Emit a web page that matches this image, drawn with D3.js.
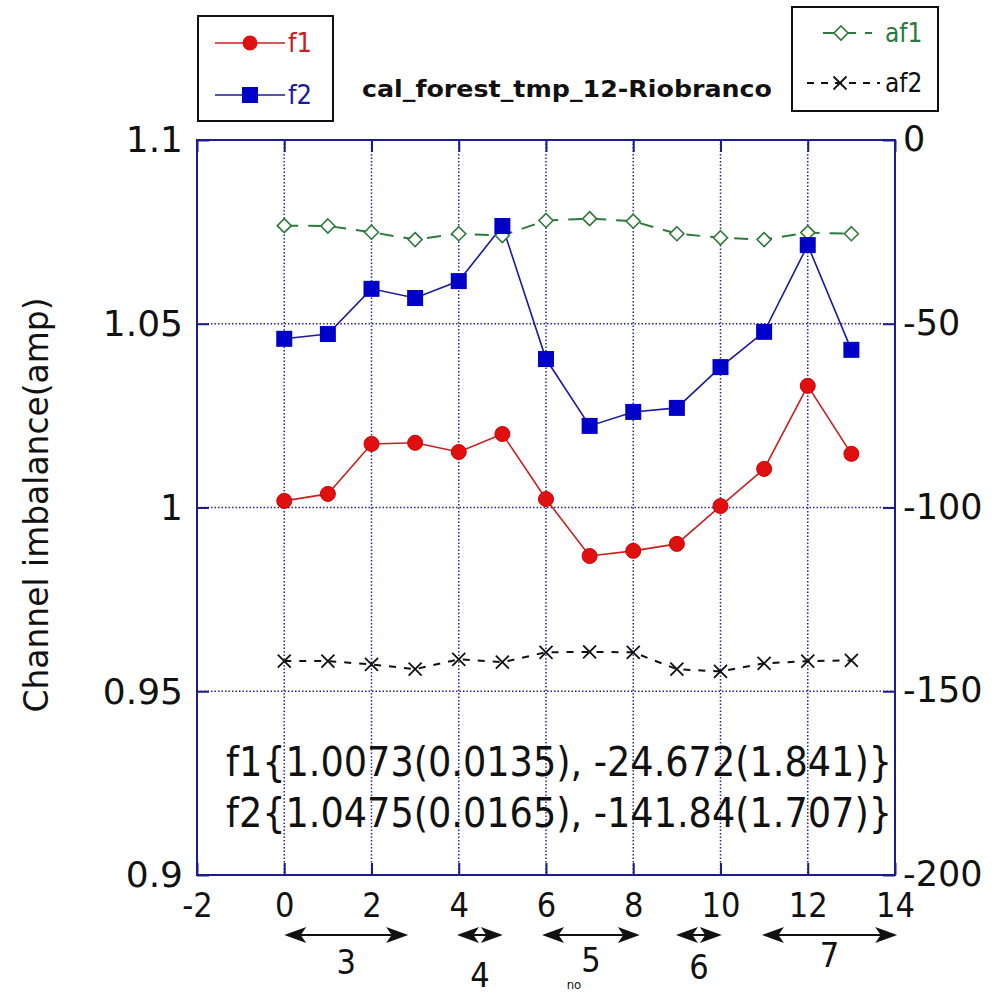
<!DOCTYPE html>
<html>
<head>
<meta charset="utf-8">
<script src="https://cdn.jsdelivr.net/npm/d3@7"></script>
<style>
  html, body { margin: 0; padding: 0; background: #fff; }
  svg { display: block; }
  .cond { font-family: "DejaVu Sans Condensed", "Liberation Sans Narrow", "Roboto Condensed", "DejaVu Sans", sans-serif; }
  .wide { font-family: "DejaVu Sans", Verdana, sans-serif; }
</style>
</head>
<body>
<svg id="chart" width="1003" height="998"></svg>
<script>
// Sample index along the run
const sampleNo = [0, 1, 2, 3, 4, 5, 6, 7, 8, 9, 10, 11, 12, 13];

// Amplitude imbalance (left axis)
const f1 = [1.0018, 1.0037, 1.0173, 1.0176, 1.0151, 1.0200, 1.0023, 0.9868, 0.9882, 0.9901, 1.0004, 1.0105, 1.0331, 1.0146];
const f2 = [1.0459, 1.0472, 1.0595, 1.0570, 1.0616, 1.0766, 1.0404, 1.0222, 1.0260, 1.0271, 1.0382, 1.0478, 1.0714, 1.0429];

// Phase imbalance (right axis)
const af1 = [-23.3, -23.4, -25.1, -27.1, -25.5, -26.0, -21.9, -21.4, -22.1, -25.5, -26.6, -27.1, -25.2, -25.5];
const af2 = [-141.8, -141.8, -142.7, -144.0, -141.3, -142.1, -139.4, -139.3, -139.4, -144.0, -144.6, -142.4, -141.8, -141.6];

// Axis ticks
const xTicks = [-2, 0, 2, 4, 6, 8, 10, 12, 14];
const yLeftTicks = [0.9, 0.95, 1, 1.05, 1.1];
const yRightTicks = [-200, -150, -100, -50, 0];

// Group spans under the x axis (in sample units) and their labels
const groupLabels = ["3", "4", "5", "6", "7"];
const groupFrom = [0.0, 3.96, 5.91, 8.98, 10.95];
const groupTo = [2.84, 5.01, 8.15, 10.03, 14.05];

// Fit summaries
const fitLines = [
  "f1{1.0073(0.0135), -24.672(1.841)}",
  "f2{1.0475(0.0165), -141.84(1.707)}"
];

const titleText = "cal_forest_tmp_12-Riobranco";
const yTitle = "Channel imbalance(amp)";

const svg = d3.select("#chart");
const L = 197, R = 895, T = 140, B = 875;

const x = d3.scaleLinear().domain([-2, 14]).range([L, R]);
const yL = d3.scaleLinear().domain([0.9, 1.1]).range([B, T]);
const yR = d3.scaleLinear().domain([-200, 0]).range([B, T]);

// plain hyphen-minus for negative tick values
const fmt = d => String(+(+d).toFixed(2));

const navy = "#1c1c8c";
const gridCol = "#26269a";

// dotted grid
const grid = svg.append("g");
grid.selectAll("line.gx").data(xTicks.filter(d => d > -2 && d < 14)).join("line")
  .attr("x1", d => x(d)).attr("x2", d => x(d)).attr("y1", T).attr("y2", B)
  .attr("stroke", gridCol).attr("stroke-width", 1.5).attr("stroke-dasharray", "1.5,2");
grid.selectAll("line.gy").data(yLeftTicks.filter(d => d > 0.9 && d < 1.1)).join("line")
  .attr("y1", d => yL(d)).attr("y2", d => yL(d)).attr("x1", L).attr("x2", R)
  .attr("stroke", gridCol).attr("stroke-width", 1.5).attr("stroke-dasharray", "1.5,2");

// axes with inward ticks
const tk = 12;
const axB = svg.append("g").attr("transform", `translate(0,${B})`)
  .call(d3.axisBottom(x).tickValues(xTicks).tickSizeInner(-tk).tickSizeOuter(0).tickFormat(fmt));
const axT = svg.append("g").attr("transform", `translate(0,${T})`)
  .call(d3.axisTop(x).tickValues(xTicks).tickSizeInner(-tk).tickSizeOuter(0).tickFormat(""));
const axL = svg.append("g").attr("transform", `translate(${L},0)`)
  .call(d3.axisLeft(yL).tickValues(yLeftTicks).tickSizeInner(-tk).tickSizeOuter(0).tickFormat(fmt));
const axR = svg.append("g").attr("transform", `translate(${R},0)`)
  .call(d3.axisRight(yR).tickValues(yRightTicks).tickSizeInner(-tk).tickSizeOuter(0).tickFormat(fmt));

[axB, axT, axL, axR].forEach(a => {
  a.select(".domain").remove();
  a.selectAll(".tick line").attr("stroke", navy).attr("stroke-width", 2);
  a.selectAll("text").attr("fill", "#111");
});
axB.selectAll("text").attr("class", "cond").attr("font-size", 34).attr("dy", 0).attr("y", 42);
axL.selectAll("text").attr("class", "wide").attr("font-size", 36).attr("x", -14).attr("dy", "0.33em");
axR.selectAll("text").attr("class", "wide").attr("font-size", 35).attr("x", 8).attr("dy", "0.3em");

// frame
svg.append("rect").attr("x", L).attr("y", T).attr("width", R - L).attr("height", B - T)
  .attr("fill", "none").attr("stroke", navy).attr("stroke-width", 2);

// series
const lineL = d3.line().x((d, i) => x(sampleNo[i])).y(d => yL(d));
const lineR = d3.line().x((d, i) => x(sampleNo[i])).y(d => yR(d));

const red = "#e01010", blue = "#0000c8", green = "#2b7a3b";

svg.append("path").datum(af1).attr("d", lineR).attr("fill", "none")
  .attr("stroke", green).attr("stroke-width", 2).attr("stroke-dasharray", "14,10");
svg.append("path").datum(af2).attr("d", lineR).attr("fill", "none")
  .attr("stroke", "#111").attr("stroke-width", 2).attr("stroke-dasharray", "7,8");
svg.append("path").datum(f1).attr("d", lineL).attr("fill", "none")
  .attr("stroke", "#c82020").attr("stroke-width", 1.6);
svg.append("path").datum(f2).attr("d", lineL).attr("fill", "none")
  .attr("stroke", "#1a1aa0").attr("stroke-width", 1.6);

const diamond = (cx, cy, r) => `M${cx},${cy - r}L${cx + r},${cy}L${cx},${cy + r}L${cx - r},${cy}Z`;
const cross = (cx, cy, r) => `M${cx - r},${cy - r}L${cx + r},${cy + r}M${cx - r},${cy + r}L${cx + r},${cy - r}`;

svg.append("g").selectAll("path").data(af1).join("path")
  .attr("d", (d, i) => diamond(x(sampleNo[i]), yR(d), 7))
  .attr("fill", "#fff").attr("stroke", green).attr("stroke-width", 1.6);
svg.append("g").selectAll("path").data(af2).join("path")
  .attr("d", (d, i) => cross(x(sampleNo[i]), yR(d), 6.5))
  .attr("fill", "none").attr("stroke", "#111").attr("stroke-width", 1.8);
svg.append("g").selectAll("circle").data(f1).join("circle")
  .attr("cx", (d, i) => x(sampleNo[i])).attr("cy", d => yL(d)).attr("r", 7.5)
  .attr("fill", red).attr("stroke", "#d00000").attr("stroke-width", 1);
svg.append("g").selectAll("rect").data(f2).join("rect")
  .attr("x", (d, i) => x(sampleNo[i]) - 8).attr("y", d => yL(d) - 8)
  .attr("width", 16).attr("height", 16).attr("fill", blue);

// fit summary text
svg.append("g").selectAll("text").data(fitLines).join("text")
  .attr("class", "cond").attr("x", 226).attr("y", (d, i) => 776 + i * 51)
  .attr("font-size", 40).attr("fill", "#111")
  .attr("textLength", 666).attr("lengthAdjust", "spacingAndGlyphs")
  .text(d => d);

// title
svg.append("text").attr("class", "wide").attr("x", 362).attr("y", 97)
  .attr("font-size", 23).attr("font-weight", "bold").attr("fill", "#111")
  .attr("textLength", 410).attr("lengthAdjust", "spacingAndGlyphs").text(titleText);

// left axis title
svg.append("text").attr("class", "cond")
  .attr("transform", "translate(48,505) rotate(-90)")
  .attr("text-anchor", "middle").attr("font-size", 33).attr("fill", "#111")
  .attr("textLength", 415).attr("lengthAdjust", "spacingAndGlyphs").text(yTitle);

// legend: left box
const lg1 = svg.append("g");
lg1.append("rect").attr("x", 198).attr("y", 16).attr("width", 135).attr("height", 105)
  .attr("fill", "#fff").attr("stroke", "#111").attr("stroke-width", 2);
lg1.append("line").attr("x1", 215).attr("x2", 285).attr("y1", 43).attr("y2", 43).attr("stroke", "#c82020").attr("stroke-width", 1.6);
lg1.append("circle").attr("cx", 250).attr("cy", 43).attr("r", 7.5).attr("fill", red);
lg1.append("text").attr("class", "cond").attr("x", 288).attr("y", 52).attr("font-size", 27).attr("fill", "#c82020").text("f1");
lg1.append("line").attr("x1", 215).attr("x2", 285).attr("y1", 95).attr("y2", 95).attr("stroke", "#1a1aa0").attr("stroke-width", 1.6);
lg1.append("rect").attr("x", 242).attr("y", 87).attr("width", 16).attr("height", 16).attr("fill", blue);
lg1.append("text").attr("class", "cond").attr("x", 288).attr("y", 104).attr("font-size", 27).attr("fill", "#1a1aa0").text("f2");

// legend: right box
const lg2 = svg.append("g");
lg2.append("rect").attr("x", 792).attr("y", 7).attr("width", 146).attr("height", 104)
  .attr("fill", "#fff").attr("stroke", "#111").attr("stroke-width", 2);
lg2.append("line").attr("x1", 823).attr("x2", 872).attr("y1", 33).attr("y2", 33)
  .attr("stroke", green).attr("stroke-width", 2).attr("stroke-dasharray", "12,9");
lg2.append("path").attr("d", diamond(841, 33, 7)).attr("fill", "#fff").attr("stroke", green).attr("stroke-width", 1.6);
lg2.append("text").attr("class", "cond").attr("x", 885).attr("y", 42).attr("font-size", 26).attr("fill", green).text("af1");
lg2.append("line").attr("x1", 807).attr("x2", 880).attr("y1", 83).attr("y2", 83)
  .attr("stroke", "#111").attr("stroke-width", 2).attr("stroke-dasharray", "7,7");
lg2.append("path").attr("d", cross(840, 83, 6.5)).attr("fill", "none").attr("stroke", "#111").attr("stroke-width", 1.8);
lg2.append("text").attr("class", "cond").attr("x", 885).attr("y", 92).attr("font-size", 26).attr("fill", "#111").text("af2");

// group spans under the axis
const ay = 935, headL = 22, headW = 8;
const head = (tipX, dir) => {
  const bx = tipX + dir * headL, nx = tipX + dir * headL * 0.75;
  return `M${tipX},${ay}L${bx},${ay - headW}L${nx},${ay}L${bx},${ay + headW}Z`;
};
const grp = svg.append("g");
groupLabels.forEach((lab, i) => {
  const a = x(groupFrom[i]), b = x(groupTo[i]);
  grp.append("line").attr("x1", a + 4).attr("x2", b - 4).attr("y1", ay).attr("y2", ay)
    .attr("stroke", "#111").attr("stroke-width", 2);
  grp.append("path").attr("d", head(a, 1)).attr("fill", "#111");
  grp.append("path").attr("d", head(b, -1)).attr("fill", "#111");
});
const labelY = [962, 975, 960, 967, 955];
grp.selectAll("text").data(groupLabels).join("text")
  .attr("class", "cond").attr("text-anchor", "middle")
  .attr("x", (d, i) => (x(groupFrom[i]) + x(groupTo[i])) / 2)
  .attr("y", (d, i) => labelY[i]).attr("dy", "0.36em")
  .attr("font-size", 34).attr("fill", "#111").text(d => d);
svg.append("text").attr("class", "cond").attr("x", 574).attr("y", 984).attr("dy", "0.35em")
  .attr("text-anchor", "middle").attr("font-size", 13).attr("fill", "#111").text("no");
</script>
</body>
</html>
